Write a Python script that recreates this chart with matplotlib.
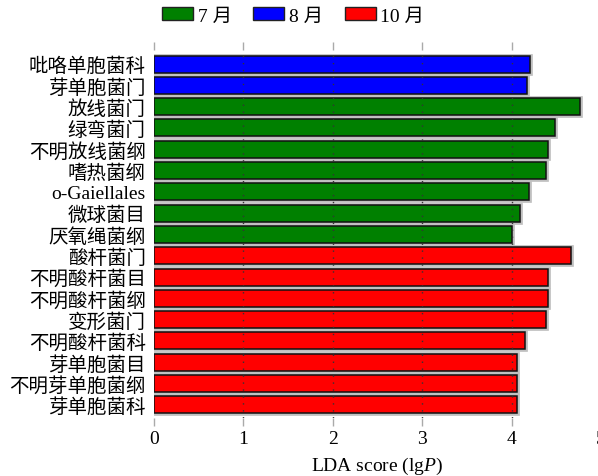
import matplotlib
matplotlib.use("Agg")
import matplotlib.pyplot as plt
from matplotlib.patches import Patch

plt.rcParams['font.family'] = ['Liberation Serif', 'Noto Sans CJK SC']
plt.rcParams['mathtext.fontset'] = 'custom'
plt.rcParams['mathtext.rm'] = 'Liberation Serif'
plt.rcParams['mathtext.it'] = 'Liberation Serif:italic'

# LDA effect-size results, listed top to bottom
taxa = ['吡咯单胞菌科', '芽单胞菌门', '放线菌门', '绿弯菌门', '不明放线菌纲',
        '嗜热菌纲', 'o-Gaiellales', '微球菌目', '厌氧绳菌纲', '酸杆菌门',
        '不明酸杆菌目', '不明酸杆菌纲', '变形菌门', '不明酸杆菌科', '芽单胞菌目',
        '不明芽单胞菌纲', '芽单胞菌科']
lda_scores = [4.21, 4.17, 4.76, 4.49, 4.41, 4.38, 4.19, 4.09, 4.00, 4.67,
              4.41, 4.41, 4.39, 4.15, 4.06, 4.06, 4.06]
groups = ['8 月', '8 月', '7 月', '7 月', '7 月', '7 月', '7 月', '7 月', '7 月',
          '10 月', '10 月', '10 月', '10 月', '10 月', '10 月', '10 月', '10 月']
group_order = ['7 月', '8 月', '10 月']
group_colors = {'7 月': '#008000', '8 月': '#0000ff', '10 月': '#ff0000'}
x_ticks = [0, 1, 2, 3, 4, 5]

W, H = 598, 477
fig = plt.figure(figsize=(W / 100, H / 100), dpi=100)
left, right, top, bottom = 154, 601, 51, 419
ax = fig.add_axes([left / W, 1 - bottom / H, (right - left) / W, (bottom - top) / H])

ypos = list(range(len(taxa)))
colors = [group_colors[g] for g in groups]

# light halo around each bar, then the filled bar with a black outline
ax.barh(ypos, lda_scores, height=0.8, color='none', edgecolor='#c0c0c0',
        linewidth=3.4, zorder=2)
ax.barh(ypos, lda_scores, height=0.8, color=colors, edgecolor='#111111',
        linewidth=1.1, zorder=3)

# dotted guide lines drawn over the bars
for t in x_ticks[1:]:
    ax.axvline(t, color='#333333', linestyle=(0, (1, 4)), linewidth=1.0, zorder=4)

ax.set_xlim(0, 5)
ax.set_ylim(16.62, -0.66)
ax.set_yticks(ypos)
ax.set_yticklabels(taxa, fontsize=14)
ax.set_xticks(x_ticks)
ax.set_xticklabels([str(t) for t in x_ticks], fontsize=14)
ax.tick_params(axis='y', length=0, pad=6)
ax.tick_params(axis='x', which='both', top=True, bottom=True, direction='out',
               length=6, width=1.0, color='#aaaaaa', pad=3)
for s in ax.spines.values():
    s.set_visible(False)

ax.set_xlabel(r'LDA score (lg$\it{P}$)', fontsize=14, labelpad=5)

handles = [Patch(facecolor=group_colors[g], edgecolor='#222222', linewidth=1.0, label=g)
           for g in group_order]
fig.legend(handles=handles, loc='center', bbox_to_anchor=(293 / W, 1 - 17 / H),
           ncol=3, frameon=False, fontsize=14, handlelength=1.6, handleheight=0.6,
           handletextpad=0.25, columnspacing=1.1)

fig.savefig('out.png', dpi=100)
